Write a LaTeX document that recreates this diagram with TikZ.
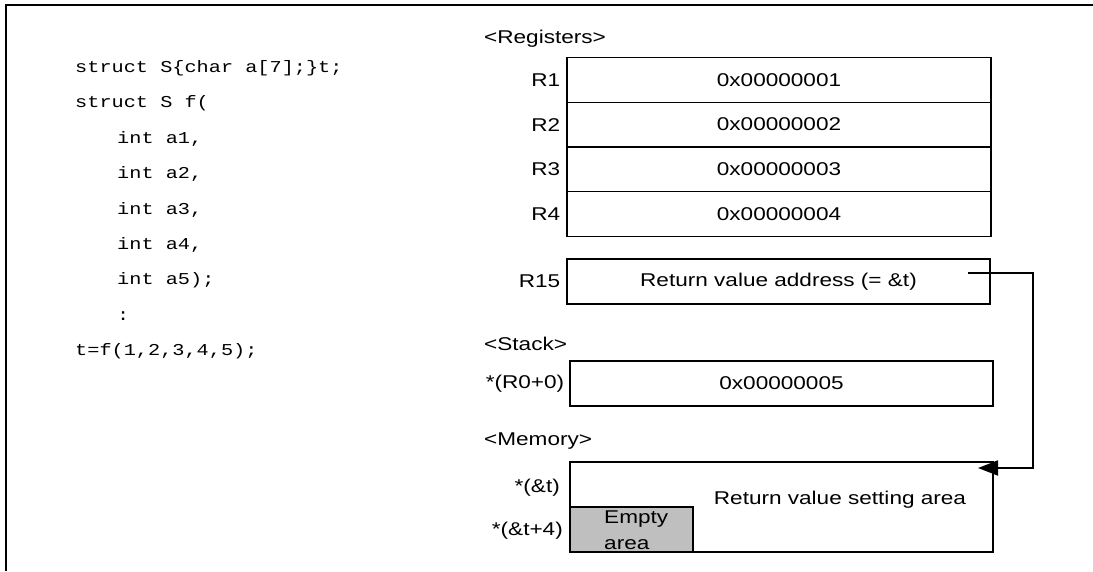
\documentclass[tikz,border=0pt]{standalone}
\usepackage{fontspec}
\setmainfont{Liberation Sans}[FakeStretch=1.22]
\newfontfamily\codefont{Liberation Mono}[FakeStretch=1.22]
\usetikzlibrary{arrows.meta}

\begin{document}
\begin{tikzpicture} [
    x=1pt, y=-1pt,
    every node/.style={font=\fontsize{18.5}{26}\selectfont},
    cell/.style={rectangle,draw,line width=1.3pt,inner sep=0pt,
      minimum width=424pt,minimum height=44.75pt},
    blank/.style={rectangle,draw,line width=1.3pt,fill=gray!50,inner sep=0pt,
      minimum width=123pt,minimum height=45pt},
    lbl/.style={anchor=east,inner sep=0pt},
    hdr/.style={anchor=west,inner sep=0pt},
    code/.style={anchor=west,inner sep=0pt,
      font=\codefont\fontsize{16.6}{20}\selectfont},
    ]
    \useasboundingbox (0,0) rectangle (1093,571);
    \draw [line width=2.2pt] (6,571) -- (6,5) -- (1093,5);

    % Source code
    \node[code] (c1) at (75,68) {struct S\{char a[7];\}t;};
    \node[code] (c2) at (75,103.4) {struct S f(};
    \node[code] (c3) at (117,138.8) {int a1,};
    \node[code] (c4) at (117,174.2) {int a2,};
    \node[code] (c5) at (117,209.6) {int a3,};
    \node[code] (c6) at (117,245) {int a4,};
    \node[code] (c7) at (117,280.4) {int a5);};
    \node[code] (c8) at (117,315.8) {:};
    \node[code] (c9) at (75,351.2) {t=f(1,2,3,4,5);};

    % Registers
    \node[hdr] (regs) at (484,39) {<Registers>};
    \node[cell] (r1) at (779,79.9) {0x00000001};
    \node[cell] (r2) at (779,124.6) {0x00000002};
    \node[cell] (r3) at (779,169.4) {0x00000003};
    \node[cell] (r4) at (779,214.1) {0x00000004};
    \node[lbl] at ([xshift=-6pt]r1.west) {R1};
    \node[lbl] at ([xshift=-6pt]r2.west) {R2};
    \node[lbl] at ([xshift=-6pt]r3.west) {R3};
    \node[lbl] at ([xshift=-6pt]r4.west) {R4};
    \node[cell,minimum width=423pt,minimum height=45pt] (r15) at (778.5,281.5)
      {Return value address (= \&t)};
    \node[lbl] at ([xshift=-6pt]r15.west) {R15};

    % Stack
    \node[hdr] (stk) at (484,344) {<Stack>};
    \node[cell,minimum width=423pt,minimum height=45pt] (s0) at (781.5,383.5)
      {0x00000005};
    \node[lbl] at ([xshift=-5pt]s0.west) {*(R0+0)};

    % Memory
    \node[hdr] (memh) at (484,441) {<Memory>};
    \node[cell,minimum width=423pt,minimum height=90pt] (mem) at (781.5,507) {};
    \node[blank] (empty) at (631.5,529.5) {};
    \node[inner sep=0pt] (setarea) at (840,500) {Return value setting area};
    \node[anchor=west,align=left,inner sep=0pt] (etxt) at (604,530.4)
      {Empty\\area};
    \node[lbl] at (560,488) {*(\&t)};
    \node[lbl] at (563,531) {*(\&t+4)};

    % Return value address points to memory
    \coordinate (from) at (968,273);
    \coordinate (to) at (978,468);
    \draw [line width=1.8pt,-{Triangle[length=20pt,width=15pt]}]
      (from) -- (1033,273) |- (to);
  \end{tikzpicture}
\end{document}
